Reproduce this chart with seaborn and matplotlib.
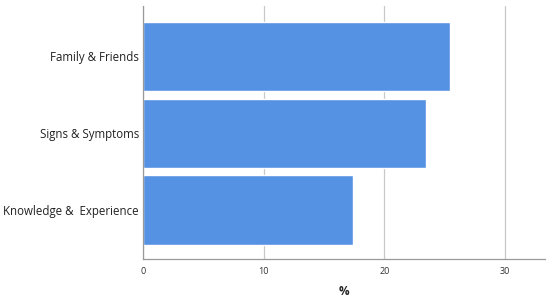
import pandas as pd
import seaborn as sns
import matplotlib.pyplot as plt

categories = ["Family & Friends", "Signs & Symptoms", "Knowledge &  Experience"]
percent = [25.4, 23.4, 17.4]

df = pd.DataFrame({"category": categories, "percent": percent})

sns.set_style("white")
plt.rcParams['font.family'] = ['Open Sans', 'DejaVu Sans']

fig = plt.figure(figsize=(5.5, 2.99), dpi=100)
ax = fig.add_axes([0.26, 0.134, 0.731, 0.846])

sns.barplot(data=df, x="percent", y="category", color="#5692E3", saturation=1,
            width=0.9, orient="h", ax=ax, zorder=2)

ax.set_xlim(0, 33.3)
ax.set_ylim(2.636, -0.656)
ax.set_xticks([0, 10, 20, 30])
ax.grid(axis="x", color="#c8c8c8", linewidth=0.9, zorder=0)
ax.set_axisbelow(True)
for s in ["top", "right"]:
    ax.spines[s].set_visible(False)
for s in ["left", "bottom"]:
    ax.spines[s].set_color("#999999")
    ax.spines[s].set_linewidth(0.9)

ax.tick_params(axis="x", labelsize=6.5, length=0, pad=6, colors="#333333")
ax.tick_params(axis="y", labelsize=8.3, length=0, pad=3, colors="#222222")
ax.set_xlabel("%", fontsize=8.5, fontweight="bold", labelpad=6)
ax.set_ylabel("")

plt.savefig("out.png", dpi=100)
